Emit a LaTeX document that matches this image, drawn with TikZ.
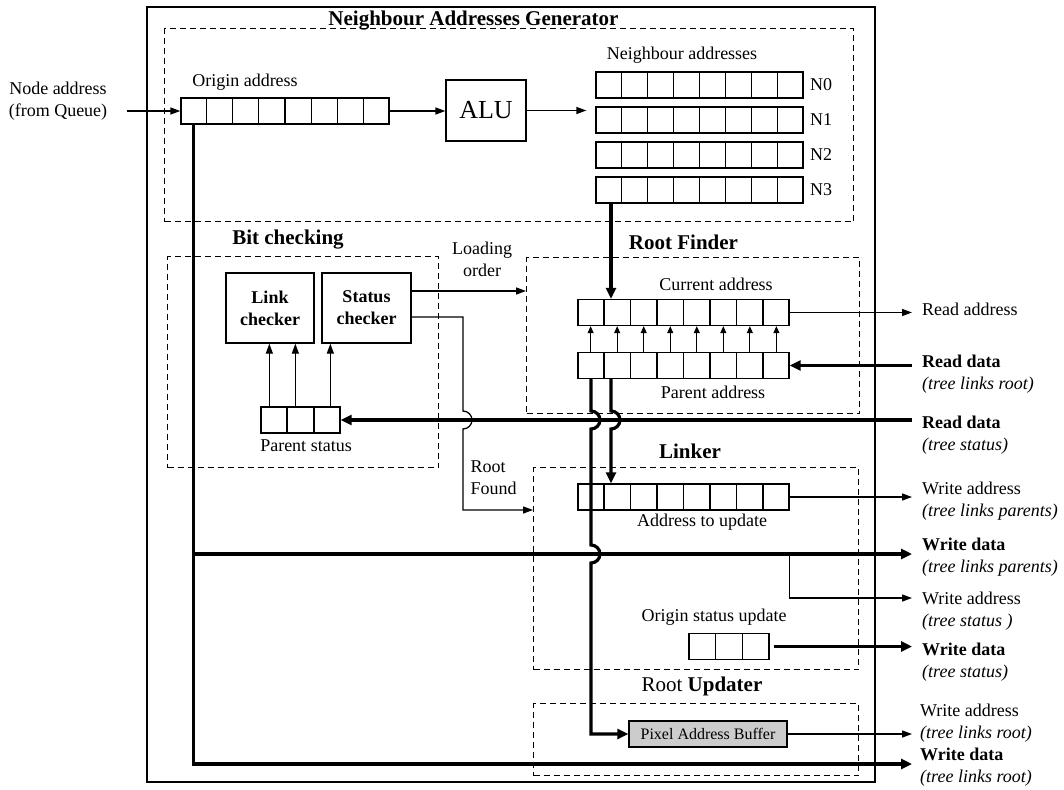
\documentclass[tikz,border=0pt]{standalone}
\usepackage{fontspec}
\setmainfont{Liberation Serif}
\usetikzlibrary{positioning, arrows.meta, calc}

% split a register node into equal cells
\newcommand{\regcells}[2]{%
  \pgfmathtruncatemacro{\nlast}{#2-1}
  \foreach \k in {1,...,\nlast}
    \draw[cellline] ($(#1.north west)!\k/#2!(#1.north east)$) -- ($(#1.south west)!\k/#2!(#1.south east)$);
}

\begin{document}
\begin{tikzpicture}[
    x=1pt, y=-1pt,
    font=\fontsize{18}{22}\selectfont,
    wire/.style={-{Triangle[length=10pt, width=7pt]}, line width=1.3pt},
    smallwire/.style={-{Triangle[length=7pt, width=6pt]}, line width=1.1pt},
    bus/.style={line width=3.2pt},
    busarrow/.style={bus, -{Triangle[length=11pt, width=10pt]}},
    group/.style={draw, line width=1.2pt, dash pattern=on 6pt off 4pt, anchor=north west, inner sep=0pt},
    reg/.style={draw, line width=1.3pt, inner sep=0pt, minimum height=26pt},
    cellline/.style={line width=1.3pt},
    checker/.style={draw, line width=1.3pt, align=center, font=\bfseries\fontsize{18}{22}\selectfont, minimum width=88pt, minimum height=70pt},
    title/.style={font=\bfseries\fontsize{21}{24}\selectfont},
    side/.style={anchor=west, align=left, inner sep=0pt}
]
\useasboundingbox (0,0) rectangle (1064,789);

% Positions
\def\outx{912}
\def\lblx{922}
\def\busA{591}
\def\busB{611}
\def\xrf{463}
\def\ytst{420}
\def\ywdp{554}
\def\yrf{510}

% Frame and groups
\draw[line width=1.5pt] (147,7) rectangle (875,782);
\node[group, minimum width=689pt, minimum height=193pt] (nag) at (164,28) {};
\node[group, minimum width=271pt, minimum height=211pt] (bit) at (167,256) {};
\node[group, minimum width=333pt, minimum height=156pt] (rf) at (526,257) {};
\node[group, minimum width=325pt, minimum height=202pt] (lnk) at (533,467) {};
\node[group, minimum width=325pt, minimum height=72pt] (ru) at (533,703) {};

% Titles
\node[title] (nagtitle) at (473.5,21) {Neighbour Addresses Generator};
\node[title] (bittitle) at (288,240) {Bit checking};
\node[title] (rftitle) at (683.5,242) {Root Finder};
\node[title] (lnktitle) at (690,451) {Linker};
\node[title] (rutitle) at (702,686) {{\mdseries Root} Updater};

% Neighbour addresses generator
\node[align=center] (nodeaddr) at (58,101) {Node address\\(from Queue)};
\node (origlbl) at (245,82) {Origin address};
\node[reg, minimum width=208pt] (orig) at (285,111) {};
\regcells{orig}{8}
\node[draw, line width=1.3pt, minimum width=80pt, minimum height=61pt, font=\fontsize{26}{28}\selectfont] (alu) at (486,110.5) {ALU};
\node (nbrlbl) at (682,55) {Neighbour addresses};
\foreach \r/\y in {0/85, 1/120, 2/155, 3/190} {
    \node[reg, minimum width=207pt] (n\r) at (699.5,\y) {};
    \regcells{n\r}{8}
    \node[right=3pt of n\r] (nlbl\r) {N\r};
}

% Bit checking
\node[checker] (link) at (270,308) {Link\\checker};
\node[checker, minimum width=89pt] (stat) at (366.5,308) {Status\\checker};
\node[reg, minimum width=79pt] (pst) at (300.5,\ytst) {};
\regcells{pst}{3}
\node (pstlbl) at (306,446) {Parent status};
\node[align=center] (loadlbl) at (482,259) {Loading\\order};
\node[anchor=west, align=left] (rootlbl) at (467,478) {Root\\Found};

% Root finder
\node (curlbl) at (716,284) {Current address};
\node[reg, minimum width=211pt] (cur) at (683.5,312.5) {};
\regcells{cur}{8}
\node[reg, minimum width=211pt] (par) at (683.5,365.5) {};
\regcells{par}{8}
\node (parlbl) at (713,392) {Parent address};

% Linker
\node[reg, minimum width=211pt] (upd) at (683.5,497) {};
\regcells{upd}{8}
\node (updlbl) at (702,522) {Address to update};
\node (ostlbl) at (714,617) {Origin status update};
\node[reg, minimum width=80pt] (ost) at (729,646.5) {};
\regcells{ost}{3}

% Root updater
\node[draw, line width=1.3pt, fill=black!20, minimum width=158pt, minimum height=26pt, inner sep=0pt, font=\fontsize{16}{18}\selectfont] (pab) at (708,734) {Pixel Address Buffer};

% Outside labels
\node[side] (raddrlbl) at (\lblx,309) {Read address};
\node[side] (rdrlbl) at (\lblx,374) {\textbf{Read data}\\\textit{(tree links root)}};
\node[side] (rdslbl) at (\lblx,435.5) {\textbf{Read data}\\\textit{(tree status)}};
\node[side] (waplbl) at (\lblx,501.5) {Write address\\\textit{(tree links parents)}};
\node[side] (wdplbl) at (\lblx,557.5) {\textbf{Write data}\\\textit{(tree links parents)}};
\node[side] (waslbl) at (\lblx,611) {Write address\\\textit{(tree status )}};
\node[side] (wdslbl) at (\lblx,662.5) {\textbf{Write data}\\\textit{(tree status)}};
\node[side] (warlbl) at (\lblx-2,723.5) {Write address\\\textit{(tree links root)}};
\node[side] (wdrlbl) at (\lblx-2,767) {\textbf{Write data}\\\textit{(tree links root)}};

\coordinate (rx) at (\outx,0);
\coordinate (wdp) at (\outx,\ywdp);
\coordinate (wst) at (\outx,598);
\coordinate (wdr) at (\outx,764);
\coordinate (o1) at ($(orig.south west)!0.5/8!(orig.south east)$);

% Address path
\draw[wire, shorten <=16pt] (nodeaddr.east |- orig.west) -- (orig.west);
\draw[wire] (orig.east) -- (orig.east -| alu.west);
\draw[wire, shorten >=9pt] (alu.east) -- (alu.east -| n1.west);
\draw[busarrow] (n3.south -| \busB,0) -- (cur.north -| \busB,0);
\foreach \k in {0.5,1.5,...,7.5}
    \draw[smallwire] ($(par.north west)!\k/8!(par.north east)$) -- ($(cur.south west)!\k/8!(cur.south east)$);

% Checkers
\foreach \dx/\tgt in {9/link, 35/link, 70/stat}
    \draw[wire] ([xshift=\dx pt]pst.north west) -- ([xshift=\dx pt]pst.north west |- \tgt.south);
\draw[wire] ([yshift=17pt]stat.east) -- ([yshift=17pt]stat.east -| rf.west);
\draw[wire] ([yshift=-9pt]stat.east) -| (\xrf,\ytst-9) arc[start angle=-90, end angle=90, radius=9] |- (lnk.west |- 0,\yrf);

% Memory ports
\draw[wire] (cur.east) -- (cur.east -| rx);
\draw[busarrow] (par.east -| rx) -- (par.east);
\draw[busarrow] (pst.east -| rx) -- (pst.east);
\draw[wire] (upd.east) -- (upd.east -| rx);
\draw[busarrow] (o1) |- (wdr);
\draw[busarrow] (o1 |- wdp) -- (wdp);
\draw[wire] (upd.east |- wdp) |- (wst);
\draw[busarrow, shorten <=4pt] (ost.east) -- (ost.east -| rx);
\draw[wire] (pab.east) -- (pab.east -| rx);

% Parent address buses with hops
\draw[busarrow] (par.south -| \busA,0) -- (\busA,\ytst-9) arc[start angle=-90, end angle=90, radius=9]
    -- (\busA,\ywdp-9) arc[start angle=-90, end angle=90, radius=9] |- (pab.west);
\draw[busarrow] (par.south -| \busB,0) -- (\busB,\ytst-9) arc[start angle=-90, end angle=90, radius=9]
    -- (upd.north -| \busB,0);

\end{tikzpicture}
\end{document}
